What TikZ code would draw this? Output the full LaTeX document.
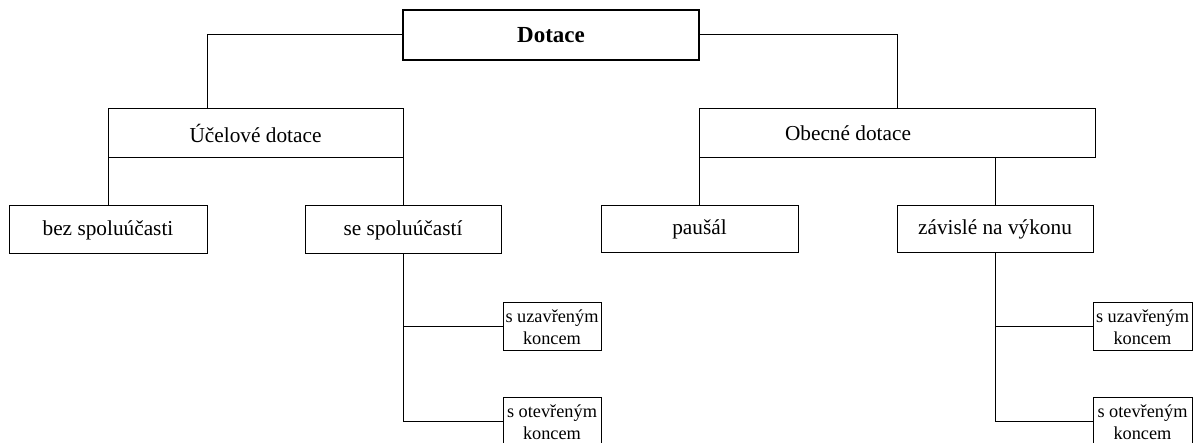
\documentclass[tikz,border=0pt]{standalone}
\usepackage{fontspec}
\setmainfont{Liberation Serif}
\begin{document}
\begin{tikzpicture}[x=1pt,y=-1pt,
  line width=1pt,
  box/.style={draw, rectangle, inner sep=0pt, font=\fontsize{21.3}{25}\selectfont},
  topbox/.style={box, line width=2.5pt, font=\fontsize{23}{27}\selectfont\bfseries},
  smallbox/.style={draw, rectangle, inner sep=0pt, align=center, minimum width=98pt, minimum height=48pt, font=\fontsize{18.3}{21.5}\selectfont}
]
\path[use as bounding box, clip] (0,0) rectangle (1197,443);

\node[topbox, minimum width=296pt, minimum height=50pt] (dot) at (551,35) {Dotace};

\node[box, minimum width=295pt, minimum height=49pt] (uc) at (255.5,133.5) {Účelové dotace};
\node[box, minimum width=396pt, minimum height=49pt,
  label={[font=\fontsize{21.3}{25}\selectfont, xshift=-49pt]center:Obecné dotace}] (ob) at (897,133.5) {};

\node[box, minimum width=198pt, minimum height=48pt] (bez) at (108,230) {bez spoluúčasti};
\node[box, minimum width=196pt, minimum height=48pt] (se) at (403,230) {se spoluúčastí};
\node[box, minimum width=197pt, minimum height=47pt] (pa) at (699.5,229.5) {paušál};
\node[box, minimum width=196pt, minimum height=47pt] (za) at (995,229.5) {závislé na výkonu};

\node[smallbox] (s1) at (552,327) {s uzavřeným\\koncem};
\node[smallbox] (s2) at (552,422) {s otevřeným\\koncem};
\node[smallbox, minimum width=99pt] (r1) at (1142.5,327) {s uzavřeným\\koncem};
\node[smallbox, minimum width=99pt] (r2) at (1142.5,422) {s otevřeným\\koncem};

\coordinate (j1) at (207,35);
\draw (dot.west) -- (j1) -- (j1 |- uc.north);
\draw (dot.east) -| (ob.north);

\draw (bez.north) -- (bez.north |- uc.south);
\draw (se.north) -- (se.north |- uc.south);
\draw (pa.north) -- (pa.north |- ob.south);
\draw (za.north) -- (za.north |- ob.south);

\draw (se.south) |- (s2.west);
\draw (se.south |- s1.west) -- (s1.west);
\draw (za.south) |- (r2.west);
\draw (za.south |- r1.west) -- (r1.west);
\end{tikzpicture}
\end{document}
